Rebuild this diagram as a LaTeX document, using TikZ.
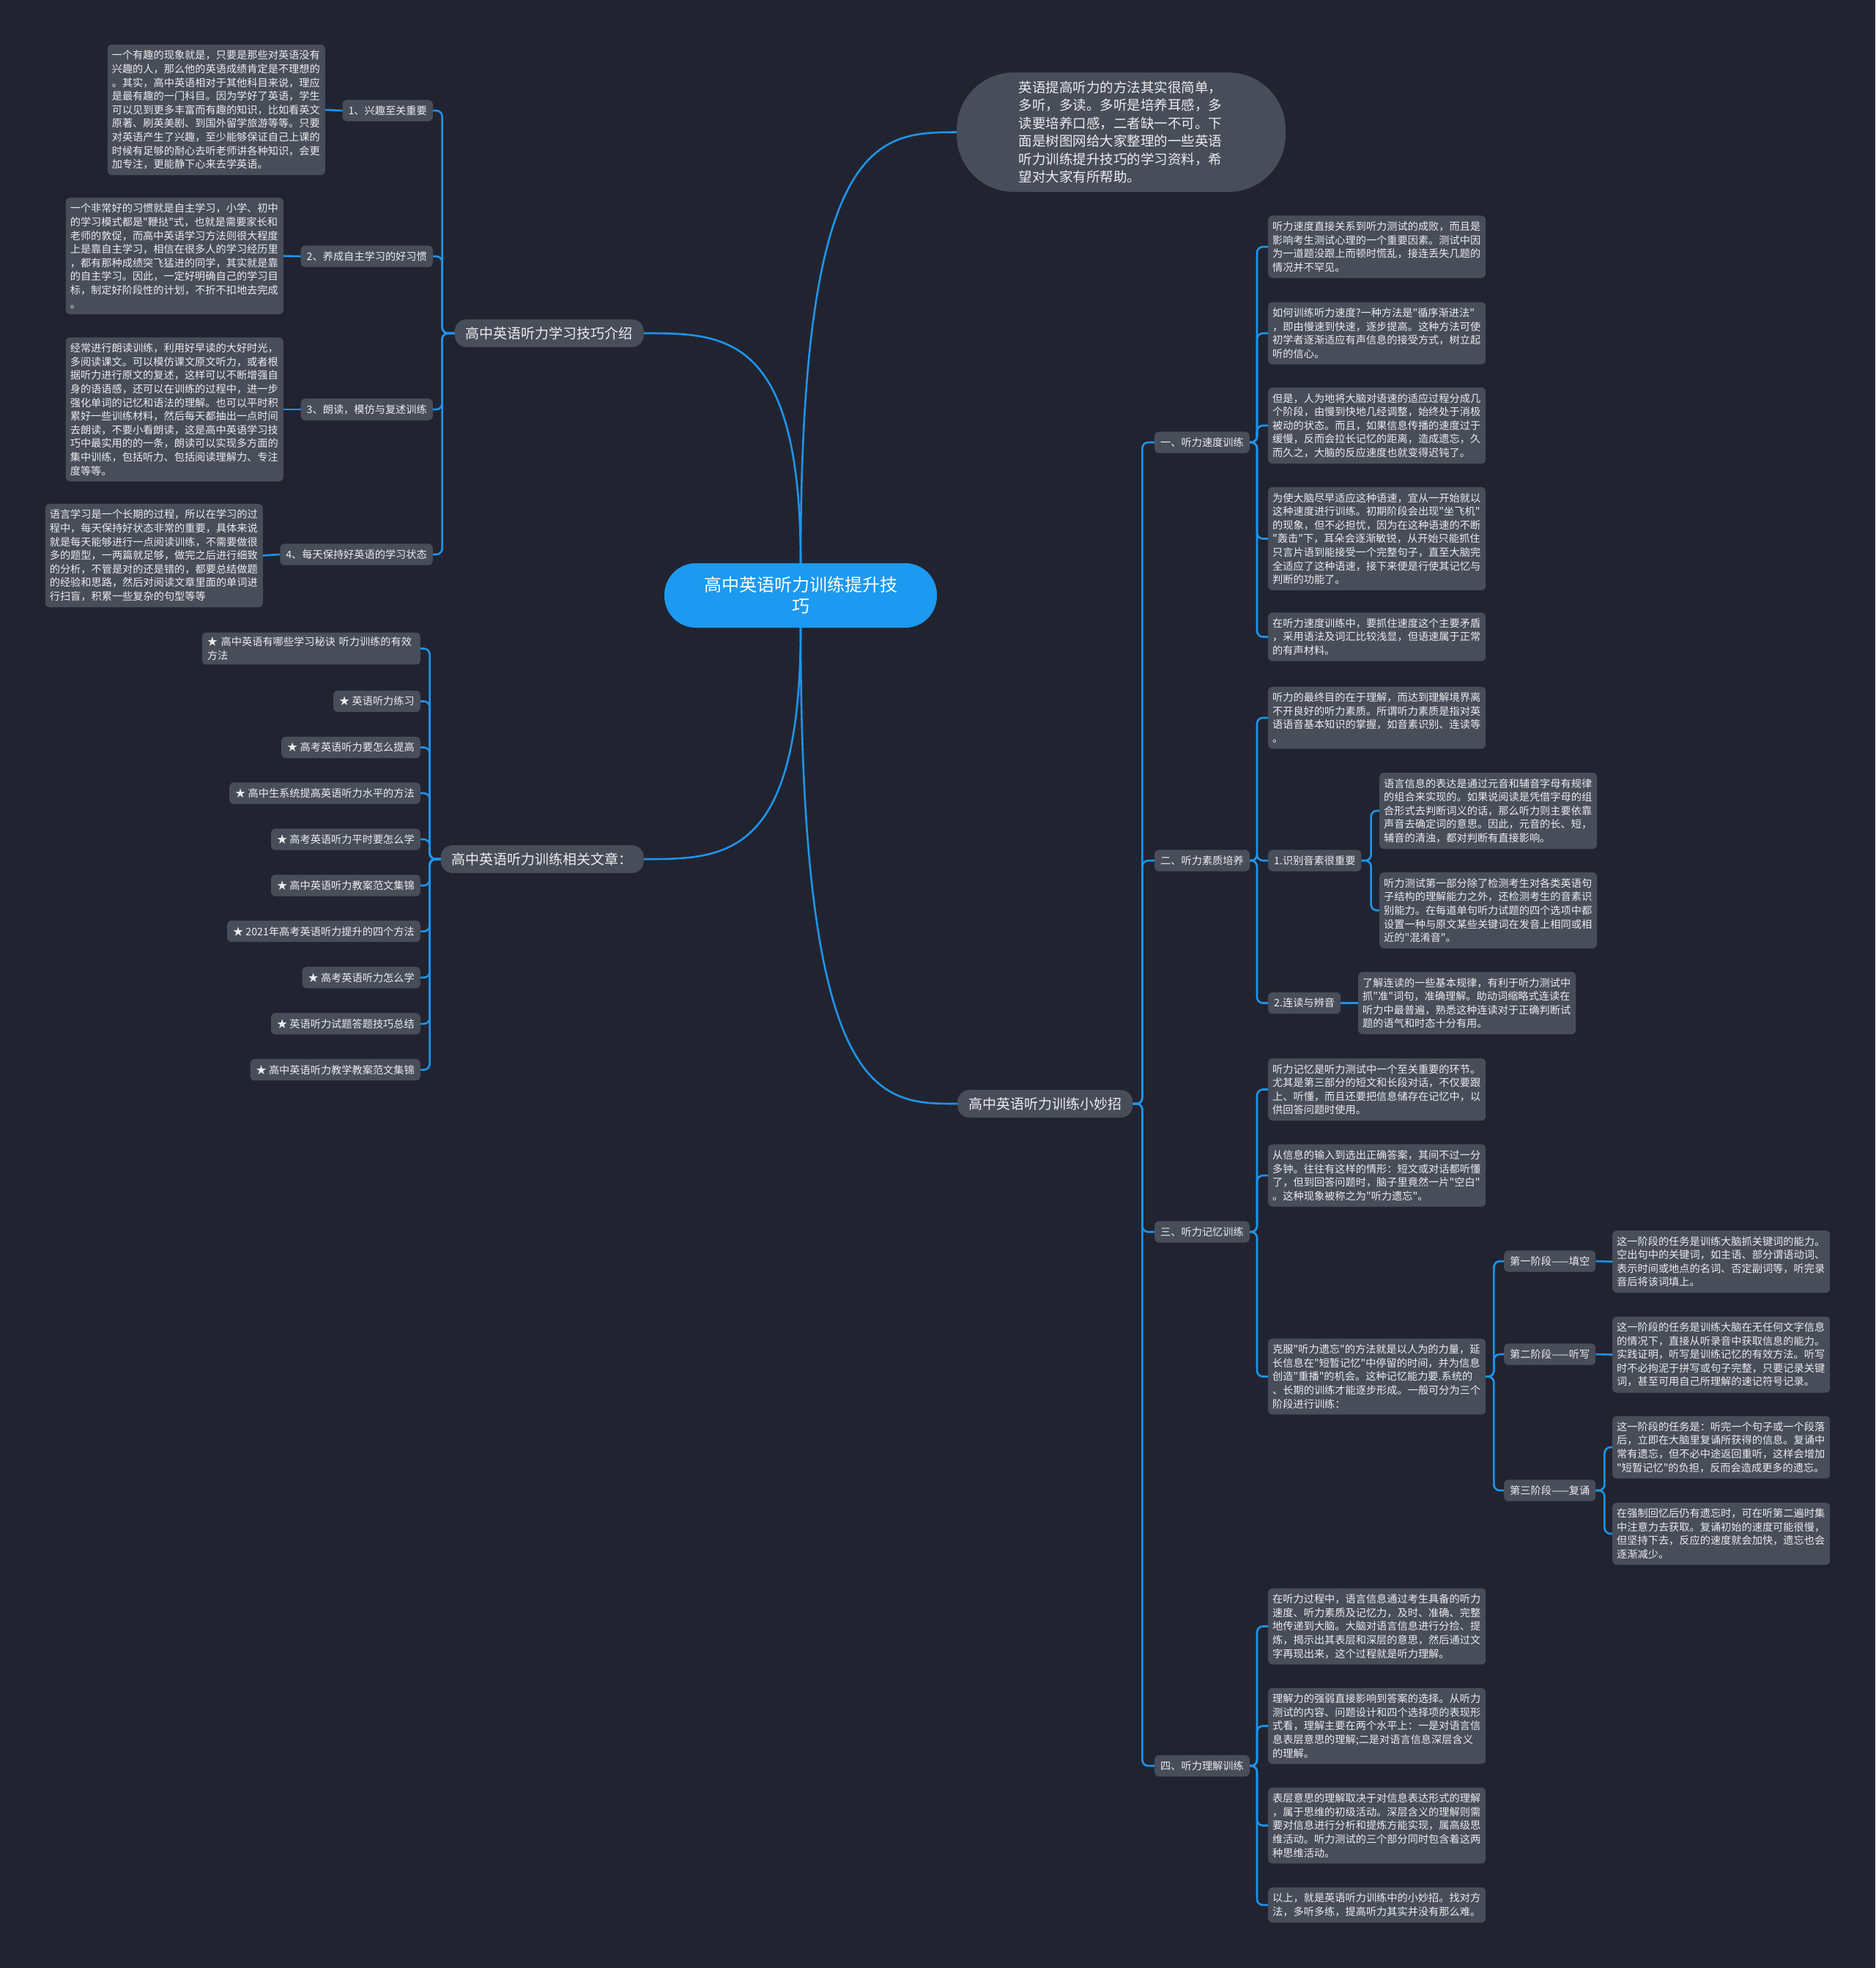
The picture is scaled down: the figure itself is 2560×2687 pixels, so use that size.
\documentclass[tikz,border=0pt]{standalone}
\usepackage{fontspec}
\newfontfamily\cjk{Noto Sans CJK SC}
\definecolor{bg}{RGB}{33,36,48}
\definecolor{boxc}{RGB}{72,77,90}
\definecolor{linec}{RGB}{30,148,235}
\definecolor{cen}{RGB}{28,153,240}
\definecolor{txt}{RGB}{236,236,238}
\begin{document}
\begin{tikzpicture}[x=1pt,y=-1pt,
  leaf/.style={fill=boxc, rounded corners=6pt, text=txt, font=\cjk\fontsize{14.2}{18.6}\selectfont, text width=285pt, align=left, inner xsep=6pt, inner ysep=8pt},
  lbl/.style={fill=boxc, rounded corners=6pt, text=txt, font=\cjk\fontsize{14.2}{18.6}\selectfont, inner xsep=8pt, inner ysep=8pt},
  branch/.style={fill=boxc, rounded corners=16pt, text=txt, font=\cjk\fontsize{19}{24}\selectfont, inner xsep=15pt, inner ysep=10pt},
  conn/.style={draw=linec, line width=2.6pt},
  sp/.style={conn, rounded corners=8pt}]
\useasboundingbox (0,0) rectangle (2560,2687);
\fill[bg] (0,0) rectangle (2560,2687);

% central and main branches
\node[fill=cen, rounded corners=43pt, text=white, font=\cjk\fontsize{24}{29}\selectfont, align=center, minimum width=372pt, minimum height=88pt, inner sep=4pt] (c) at (1093,813) {高中英语听力训练提升技\\巧};
\node[fill=boxc, rounded corners=78pt, text=txt, font=\cjk\fontsize{18.5}{24.4}\selectfont, text width=280pt, align=left, minimum width=449pt, minimum height=163pt, inner sep=4pt] (bub) at (1530.5,180.5) {英语提高听力的方法其实很简单，\\多听，多读。多听是培养耳感，多\\读要培养口感，二者缺一不可。下\\面是树图网给大家整理的一些英语\\听力训练提升技巧的学习资料，希\\望对大家有所帮助。};
\node[branch, anchor=east] (b1) at (879,455) {高中英语听力学习技巧介绍};
\node[branch, anchor=east] (b2) at (879,1173) {高中英语听力训练相关文章：};
\node[branch, anchor=west] (b3) at (1307,1507) {高中英语听力训练小妙招};

\draw[conn] (c.north) .. controls (1093,455) and (990,455) .. (b1.east);
\draw[conn] (c.north) .. controls (1093,181) and (1200,181) .. (bub.west);
\draw[conn] (c.south) .. controls (1093,1173) and (990,1173) .. (b2.east);
\draw[conn] (c.south) .. controls (1093,1507) and (1200,1507) .. (b3.west);

% left branch 1
\node[lbl, anchor=east] (a1) at (591,151) {1、兴趣至关重要};
\node[lbl, anchor=east] (a2) at (591,350) {2、养成自主学习的好习惯};
\node[lbl, anchor=east] (a3) at (591,559) {3、朗读，模仿与复述训练};
\node[lbl, anchor=east] (a4) at (591,757) {4、每天保持好英语的学习状态};
\node[leaf, anchor=east] (t1) at (444,150) {一个有趣的现象就是，只要是那些对英语没有\\兴趣的人，那么他的英语成绩肯定是不理想的\\。其实，高中英语相对于其他科目来说，理应\\是最有趣的一门科目。因为学好了英语，学生\\可以见到更多丰富而有趣的知识，比如看英文\\原著、刷英美剧、到国外留学旅游等等。只要\\对英语产生了兴趣，至少能够保证自己上课的\\时候有足够的耐心去听老师讲各种知识，会更\\加专注，更能静下心来去学英语。};
\node[leaf, anchor=east] (t2) at (387,349.5) {一个非常好的习惯就是自主学习，小学、初中\\的学习模式都是"鞭挞"式，也就是需要家长和\\老师的敦促，而高中英语学习方法则很大程度\\上是靠自主学习，相信在很多人的学习经历里\\，都有那种成绩突飞猛进的同学，其实就是靠\\的自主学习。因此，一定好明确自己的学习目\\标，制定好阶段性的计划，不折不扣地去完成\\。};
\node[leaf, anchor=east] (t3) at (387,559) {经常进行朗读训练，利用好早读的大好时光，\\多阅读课文。可以模仿课文原文听力，或者根\\据听力进行原文的复述，这样可以不断增强自\\身的语语感，还可以在训练的过程中，进一步\\强化单词的记忆和语法的理解。也可以平时积\\累好一些训练材料，然后每天都抽出一点时间\\去朗读，不要小看朗读，这是高中英语学习技\\巧中最实用的的一条，朗读可以实现多方面的\\集中训练，包括听力、包括阅读理解力、专注\\度等等。};
\node[leaf, anchor=east] (t4) at (359,758.5) {语言学习是一个长期的过程，所以在学习的过\\程中，每天保持好状态非常的重要，具体来说\\就是每天能够进行一点阅读训练，不需要做很\\多的题型，一两篇就足够，做完之后进行细致\\的分析，不管是对的还是错的，都要总结做题\\的经验和思路，然后对阅读文章里面的单词进\\行扫盲，积累一些复杂的句型等等};
\foreach \n in {a1,a2,a3,a4} \draw[sp] (b1.west) -- ++(-17,0) |- (\n.east);
\draw[conn] (a1.west) -- (t1.east);
\draw[conn] (a2.west) -- (t2.east);
\draw[conn] (a3.west) -- (t3.east);
\draw[conn] (a4.west) -- (t4.east);

% left branch 2
\node[lbl, anchor=east, text width=284pt, align=left, inner xsep=7pt, inner ysep=6pt] (l1) at (574,885.5) {★ 高中英语有哪些学习秘诀 听力训练的有效\\方法};
\node[lbl, anchor=east] (l2) at (574,957.5) {★ 英语听力练习};
\node[lbl, anchor=east] (l3) at (574,1020.5) {★ 高考英语听力要怎么提高};
\node[lbl, anchor=east] (l4) at (574,1083) {★ 高中生系统提高英语听力水平的方法};
\node[lbl, anchor=east] (l5) at (574,1146) {★ 高考英语听力平时要怎么学};
\node[lbl, anchor=east] (l6) at (574,1209) {★ 高中英语听力教案范文集锦};
\node[lbl, anchor=east] (l7) at (574,1271.6) {★ 2021年高考英语听力提升的四个方法};
\node[lbl, anchor=east] (l8) at (574,1334.7) {★ 高考英语听力怎么学};
\node[lbl, anchor=east] (l9) at (574,1397.8) {★ 英语听力试题答题技巧总结};
\node[lbl, anchor=east] (l10) at (574,1460.6) {★ 高中英语听力教学教案范文集锦};
\foreach \n in {l1,l2,l3,l4,l5,l6,l7,l8,l9,l10} \draw[sp] (b2.west) -- ++(-15,0) |- (\n.east);

% right branch level 1
\node[lbl, anchor=west] (r1) at (1576,604) {一、听力速度训练};
\node[lbl, anchor=west] (r2) at (1576,1175) {二、听力素质培养};
\node[lbl, anchor=west] (r3) at (1576,1682) {三、听力记忆训练};
\node[lbl, anchor=west] (r4) at (1576,2411) {四、听力理解训练};
\foreach \n in {r1,r2,r3,r4} \draw[sp] (b3.east) -- ++(13,0) |- (\n.west);

% group 1
\node[leaf, anchor=west] (v1) at (1731,337) {听力速度直接关系到听力测试的成败，而且是\\影响考生测试心理的一个重要因素。测试中因\\为一道题没跟上而顿时慌乱，接连丢失几题的\\情况并不罕见。};
\node[leaf, anchor=west] (v2) at (1731,455) {如何训练听力速度?一种方法是"循序渐进法"\\，即由慢速到快速，逐步提高。这种方法可使\\初学者逐渐适应有声信息的接受方式，树立起\\听的信心。};
\node[leaf, anchor=west] (v3) at (1731,581) {但是，人为地将大脑对语速的适应过程分成几\\个阶段，由慢到快地几经调整，始终处于消极\\被动的状态。而且，如果信息传播的速度过于\\缓慢，反而会拉长记忆的距离，造成遗忘，久\\而久之，大脑的反应速度也就变得迟钝了。};
\node[leaf, anchor=west] (v4) at (1731,735.5) {为使大脑尽早适应这种语速，宜从一开始就以\\这种速度进行训练。初期阶段会出现"坐飞机"\\的现象，但不必担忧，因为在这种语速的不断\\"轰击"下，耳朵会逐渐敏锐，从开始只能抓住\\只言片语到能接受一个完整句子，直至大脑完\\全适应了这种语速，接下来便是行使其记忆与\\判断的功能了。};
\node[leaf, anchor=west] (v5) at (1731,869.5) {在听力速度训练中，要抓住速度这个主要矛盾\\，采用语法及词汇比较浅显，但语速属于正常\\的有声材料。};
\foreach \n in {v1,v2,v3,v4,v5} \draw[sp] (r1.east) -- ++(10,0) |- (\n.west);

% group 2
\node[leaf, anchor=west] (q1) at (1731,980) {听力的最终目的在于理解，而达到理解境界离\\不开良好的听力素质。所谓听力素质是指对英\\语语音基本知识的掌握，如音素识别、连读等\\。};
\node[lbl, anchor=west] (k1) at (1731,1175) {1.识别音素很重要};
\node[lbl, anchor=west] (k2) at (1731,1369.5) {2.连读与辨音};
\node[leaf, anchor=west] (bb1) at (1883,1107) {语言信息的表达是通过元音和辅音字母有规律\\的组合来实现的。如果说阅读是凭借字母的组\\合形式去判断词义的话，那么听力则主要依靠\\声音去确定词的意思。因此，元音的长、短，\\辅音的清浊，都对判断有直接影响。};
\node[leaf, anchor=west] (bb2) at (1883,1243) {听力测试第一部分除了检测考生对各类英语句\\子结构的理解能力之外，还检测考生的音素识\\别能力。在每道单句听力试题的四个选项中都\\设置一种与原文某些关键词在发音上相同或相\\近的"混淆音"。};
\node[leaf, anchor=west] (cc) at (1854,1369.5) {了解连读的一些基本规律，有利于听力测试中\\抓"准"词句，准确理解。助动词缩略式连读在\\听力中最普遍，熟悉这种连读对于正确判断试\\题的语气和时态十分有用。};
\foreach \n in {q1,k1,k2} \draw[sp] (r2.east) -- ++(10,0) |- (\n.west);
\foreach \n in {bb1,bb2} \draw[sp] (k1.east) -- ++(13,0) |- (\n.west);
\draw[conn] (k2.east) -- (cc.west);

% group 3
\node[leaf, anchor=west] (m1) at (1731,1487.5) {听力记忆是听力测试中一个至关重要的环节。\\尤其是第三部分的短文和长段对话，不仅要跟\\上、听懂，而且还要把信息储存在记忆中，以\\供回答问题时使用。};
\node[leaf, anchor=west] (m2) at (1731,1605) {从信息的输入到选出正确答案，其间不过一分\\多钟。往往有这样的情形：短文或对话都听懂\\了，但到回答问题时，脑子里竟然一片"空白"\\。这种现象被称之为"听力遗忘"。};
\node[leaf, anchor=west] (m3) at (1731,1879.5) {克服"听力遗忘"的方法就是以人为的力量，延\\长信息在"短暂记忆"中停留的时间，并为信息\\创造"重播"的机会。这种记忆能力要.系统的\\、长期的训练才能逐步形成。一般可分为三个\\阶段进行训练：};
\foreach \n in {m1,m2,m3} \draw[sp] (r3.east) -- ++(10,0) |- (\n.west);
\node[lbl, anchor=west] (st1) at (2053,1722) {第一阶段——填空};
\node[lbl, anchor=west] (st2) at (2053,1849) {第二阶段——听写};
\node[lbl, anchor=west] (st3) at (2053,2035) {第三阶段——复诵};
\foreach \n in {st1,st2,st3} \draw[sp] (m3.east) -- ++(11,0) |- (\n.west);
\node[leaf, anchor=west] (s1) at (2201,1722.5) {这一阶段的任务是训练大脑抓关键词的能力。\\空出句中的关键词，如主语、部分谓语动词、\\表示时间或地点的名词、否定副词等，听完录\\音后将该词填上。};
\node[leaf, anchor=west] (s2) at (2201,1849.5) {这一阶段的任务是训练大脑在无任何文字信息\\的情况下，直接从听录音中获取信息的能力。\\实践证明，听写是训练记忆的有效方法。听写\\时不必拘泥于拼写或句子完整，只要记录关键\\词，甚至可用自己所理解的速记符号记录。};
\node[leaf, anchor=west] (s3a) at (2201,1976) {这一阶段的任务是：听完一个句子或一个段落\\后，立即在大脑里复诵所获得的信息。复诵中\\常有遗忘，但不必中途返回重听，这样会增加\\"短暂记忆"的负担，反而会造成更多的遗忘。};
\node[leaf, anchor=west] (s3b) at (2201,2094) {在强制回忆后仍有遗忘时，可在听第二遍时集\\中注意力去获取。复诵初始的速度可能很慢，\\但坚持下去，反应的速度就会加快，遗忘也会\\逐渐减少。};
\draw[conn] (st1.east) -- (s1.west);
\draw[conn] (st2.east) -- (s2.west);
\foreach \n in {s3a,s3b} \draw[sp] (st3.east) -- ++(12,0) |- (\n.west);

% group 4
\node[leaf, anchor=west] (u1) at (1731,2220.5) {在听力过程中，语言信息通过考生具备的听力\\速度、听力素质及记忆力，及时、准确、完整\\地传递到大脑。大脑对语言信息进行分捡、提\\炼，揭示出其表层和深层的意思，然后通过文\\字再现出来，这个过程就是听力理解。};
\node[leaf, anchor=west] (u2) at (1731,2356.5) {理解力的强弱直接影响到答案的选择。从听力\\测试的内容、问题设计和四个选择项的表现形\\式看，理解主要在两个水平上：一是对语言信\\息表层意思的理解;二是对语言信息深层含义\\的理解。};
\node[leaf, anchor=west] (u3) at (1731,2492.5) {表层意思的理解取决于对信息表达形式的理解\\，属于思维的初级活动。深层含义的理解则需\\要对信息进行分析和提炼方能实现，属高级思\\维活动。听力测试的三个部分同时包含着这两\\种思维活动。};
\node[leaf, anchor=west] (u4) at (1731,2601) {以上，就是英语听力训练中的小妙招。找对方\\法，多听多练，提高听力其实并没有那么难。};
\foreach \n in {u1,u2,u3,u4} \draw[sp] (r4.east) -- ++(10,0) |- (\n.west);
\end{tikzpicture}
\end{document}
